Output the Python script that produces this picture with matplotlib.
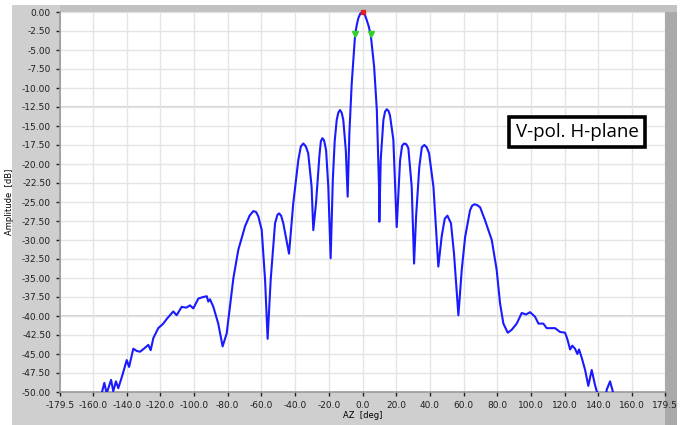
import matplotlib
matplotlib.use("Agg")
import matplotlib.pyplot as plt
import matplotlib.ticker as ticker
from matplotlib.patches import Rectangle
import numpy as np

az = [-156.0, -154.8, -153.2, -151.8, -149.2, -147.9, -146.3, -144.9, -142.5, -139.9,
      -138.5, -136.0, -134.0, -132.0, -129.7, -127.1, -125.7, -124.1, -121.2, -118.2,
      -116.2, -112.3, -110.3, -107.3, -104.5, -102.4, -100.4, -97.4, -94.5, -92.4,
      -91.5, -90.5, -88.5, -85.6, -83.0, -80.6, -79.6, -76.6, -73.7, -69.7,
      -67.0, -64.8, -63.2, -61.8, -59.8, -57.8, -56.3, -54.5, -51.9, -50.5, -49.5, -48.3, -47.0,
      -43.6, -41.1, -38.1, -36.6, -35.1, -33.6, -32.2, -30.2, -29.2, -27.6, -25.6, -24.7, -23.8,
      -22.8, -21.6, -20.3, -18.9, -17.6, -16.5, -15.3, -14.3, -13.3, -12.3, -11.4, -9.9, -8.8,
      -7.8, -6.4, -4.4, -3.4, -2.5, -1.3, 0.0, 1.3, 2.5, 3.7, 4.9, 6.9, 8.5, 9.8,
      10.0, 10.8, 12.4, 13.4, 14.4, 15.4, 16.3, 18.3, 19.7, 20.3, 22.3, 23.5, 24.7, 26.0,
      27.2, 29.2, 30.6, 31.8, 33.7, 35.2, 36.7, 38.1, 39.5, 42.1, 45.0, 47.0,
      48.8, 50.4, 52.5, 54.3, 56.9, 58.9, 60.9, 63.8, 65.0, 66.4, 68.0, 69.8, 72.7,
      76.7, 79.6, 81.6, 83.6, 86.2, 88.6, 91.5, 94.5, 97.0, 99.4,
      102.4, 104.4, 107.3, 109.3, 111.3, 114.3, 117.2, 120.2, 121.5, 123.2,
      124.5, 126.1, 127.5, 128.5, 130.1, 132.1, 134.0, 136.0, 138.0, 139.4,
      141.0, 144.0, 144.9, 146.9, 148.5, 149.5]
amp = [-51.0, -50.2, -48.8, -50.2, -48.4, -49.9, -48.6, -49.5, -47.8, -45.8,
       -46.7, -44.3, -44.6, -44.7, -44.3, -43.8, -44.5, -42.9, -41.6, -41.0,
       -40.4, -39.4, -39.9, -38.8, -38.9, -38.6, -39.0, -37.7, -37.5, -37.4,
       -38.1, -37.8, -38.8, -41.0, -44.0, -42.3, -40.5, -35.0, -31.3, -28.2,
       -26.8, -26.2, -26.3, -26.9, -28.7, -35.3, -43.0, -35.3, -27.8, -26.7, -26.5, -26.8, -27.8,
       -31.8, -25.2, -19.5, -17.7, -17.3, -17.7, -18.6, -23.0, -28.7, -25.2, -19.0, -17.0, -16.6,
       -16.9, -18.2, -23.0, -32.4, -22.0, -17.0, -14.2, -13.2, -12.9, -13.3, -14.2, -18.2, -24.3,
       -16.0, -9.4, -3.03, -1.7, -0.83, -0.2, 0.0, -0.3, -1.05, -1.9, -3.03, -7.2, -12.9, -23.0,
       -27.6, -19.5, -14.2, -13.1, -12.8, -13.0, -13.6, -16.8, -24.7, -28.3, -19.5, -17.6, -17.3, -17.4,
       -17.9, -23.0, -33.1, -26.9, -20.4, -17.8, -17.5, -17.8, -18.6, -23.0, -33.5, -29.5,
       -27.2, -26.8, -27.8, -31.8, -39.9, -33.9, -29.6, -26.1, -25.5, -25.3, -25.4, -25.7, -27.4,
       -30.0, -33.9, -38.3, -41.0, -42.2, -41.8, -41.0, -39.6, -39.8, -39.5,
       -40.1, -41.0, -41.0, -41.6, -41.6, -41.6, -42.1, -42.2, -43.0, -44.4,
       -43.9, -44.3, -45.0, -44.4, -45.5, -47.1, -49.2, -47.1, -49.1, -50.2,
       -51.5, -51.5, -49.7, -48.6, -49.9, -51.0]

peak_marker = (0.0, 0.0)
half_power_az = [-4.4, 4.9]
half_power_amp = [-2.9, -2.9]

x_ticks = [-179.5, -160, -140, -120, -100, -80, -60, -40, -20, 0, 20, 40, 60, 80,
           100, 120, 140, 160, 179.5]
y_ticks = list(np.arange(0, -50.01, -2.5))

fig = plt.figure(figsize=(6.87, 4.25), dpi=100)

# grey LabVIEW style panel behind the graph
fig.patches.append(Rectangle((12 / 687, 0), 665 / 687, 420 / 425, transform=fig.transFigure,
                             facecolor="#cfcfcf", edgecolor="none", zorder=-2))
fig.patches.append(Rectangle((665 / 687, 0), 12 / 687, 413 / 425, transform=fig.transFigure,
                             facecolor="#a9a9a9", edgecolor="none", zorder=-1))
fig.patches.append(Rectangle((60 / 687, 413 / 425), 617 / 687, 7 / 425, transform=fig.transFigure,
                             facecolor="#c2c2c2", edgecolor="none", zorder=-1))

ax = fig.add_axes([60 / 687, 1 - 392 / 425, 605 / 687, 380 / 425])
ax.set_facecolor("white")

ax.plot(az, amp, color="#1a1aff", linewidth=1.5, zorder=3)
ax.plot([peak_marker[0]], [peak_marker[1]], marker="s", markersize=3.5, color="#e02020",
        linestyle="none", clip_on=False, zorder=4)
ax.plot(half_power_az, half_power_amp, marker="v", markersize=5, color="#30d030",
        linestyle="none", zorder=4)

ax.set_xlim(-179.5, 179.5)
ax.set_ylim(-50, 0)
ax.set_xticks(x_ticks)
ax.set_yticks(y_ticks)
ax.xaxis.set_major_formatter(ticker.FormatStrFormatter("%.1f"))
ax.yaxis.set_major_formatter(ticker.FormatStrFormatter("%.2f"))
ax.tick_params(axis="both", labelsize=6.5, colors="#202020", length=3, width=1)
ax.grid(True, color="#e4e4e4", linewidth=1.0, zorder=0)
for yv in (-12.5, -40.0):
    ax.axhline(yv, color="#c8c8c8", linewidth=1.2, zorder=1)

for side in ("top", "right"):
    ax.spines[side].set_visible(False)
for side in ("left", "bottom"):
    ax.spines[side].set_color("#9a9a9a")
    ax.spines[side].set_linewidth(1.2)

ax.set_xlabel("AZ  [deg]", fontsize=6, labelpad=1)
ax.set_ylabel("Amplitude  [dB]", fontsize=6, labelpad=6)

ax.text(0.8545, 0.684, "V-pol. H-plane", transform=ax.transAxes, fontsize=13.5,
        family="Open Sans", ha="center", va="center", zorder=5,
        bbox=dict(boxstyle="square,pad=0.33", facecolor="white", edgecolor="black",
                  linewidth=2.6))

fig.savefig("out.png", dpi=100)
